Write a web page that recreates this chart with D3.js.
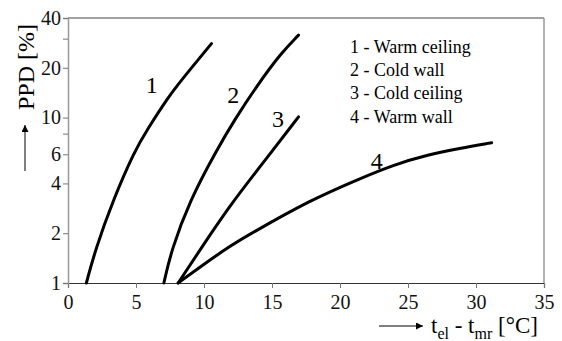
<!DOCTYPE html>
<html>
<head>
<meta charset="utf-8">
<script src="https://cdn.jsdelivr.net/npm/d3@7"></script>
<style>
  body { margin: 0; background: #fff; }
  svg { display: block; }
  svg text { font-family: "Liberation Serif", "DejaVu Serif", serif; }
</style>
</head>
<body>
<svg id="chart" width="562" height="341"></svg>
<script>
// data (x: t_el - t_mr in °C, y: PPD in %)
var warmCeilingX = [1.35, 2.0, 3.3, 4.9, 5.8, 7.4, 8.35, 10.55];
var warmCeilingY = [1, 1.58, 3.15, 6.3, 8.4, 13.4, 16.9, 28];
var coldWallX = [7.05, 7.6, 8.95, 10.9, 12.25, 13.85, 15.65, 16.95];
var coldWallY = [1, 1.58, 3.15, 6.3, 9.7, 15.4, 24.5, 31.5];
var coldCeilingX = [8.1, 9.7, 11.9, 14.7, 16.95];
var coldCeilingY = [1, 1.58, 2.95, 5.8, 10.1];
var warmWallX = [8.1, 9.7, 11.9, 13.4, 17.8, 21.5, 23.9, 26.4, 28.8, 31.15];
var warmWallY = [1, 1.25, 1.67, 1.98, 3.17, 4.29, 5.17, 5.94, 6.52, 7.05];

var curveNames = ["1", "2", "3", "4"];
var legendLabels = ["1 - Warm ceiling", "2 - Cold wall", "3 - Cold ceiling", "4 - Warm wall"];
var xTicks = [0, 5, 10, 15, 20, 25, 30, 35];
var yTicks = [1, 2, 4, 6, 8, 10, 20, 30, 40];
var yTickLabels = [1, 2, 4, 6, 10, 20, 40];

var svg = d3.select("#chart");
var margin = { top: 18, right: 18, bottom: 58, left: 68 };
var width = 562, height = 341;
var innerWidth = width - margin.left - margin.right;
var innerHeight = height - margin.top - margin.bottom;

var g = svg.append("g").attr("transform", `translate(${margin.left},${margin.top})`);

var xScale = d3.scaleLinear().domain([0, 35]).range([0, innerWidth]);
var yScale = d3.scaleLog().domain([1, 40]).range([innerHeight, 0]);

// frame: top and right
g.append("line").attr("x1", 0).attr("x2", innerWidth).attr("y1", 0).attr("y2", 0)
  .attr("stroke", "#444").attr("stroke-width", 1.2);
g.append("line").attr("x1", innerWidth).attr("x2", innerWidth).attr("y1", 0).attr("y2", innerHeight)
  .attr("stroke", "#999").attr("stroke-width", 1.5);

// x axis
var xAxis = g.append("g")
  .attr("transform", `translate(0,${innerHeight})`)
  .call(d3.axisBottom(xScale).tickValues(xTicks).tickSize(5).tickPadding(7));
xAxis.attr("font-family", null);
xAxis.select(".domain").attr("stroke", "#333").attr("stroke-width", 1.2);
xAxis.selectAll(".tick line").attr("stroke", "#777");
xAxis.selectAll("text").style("font-size", "20px").attr("fill", "#111");

// y axis
var yAxis = g.append("g")
  .call(d3.axisLeft(yScale).tickValues(yTicks).tickSize(5).tickPadding(2)
    .tickFormat(d => yTickLabels.indexOf(d) >= 0 ? d : ""));
yAxis.attr("font-family", null);
yAxis.select(".domain").attr("stroke", "#999").attr("stroke-width", 1.5);
yAxis.selectAll(".tick line").attr("stroke", "#777");
yAxis.selectAll("text").style("font-size", "20px").attr("fill", "#111");

// curves
var series = [
  d3.zip(warmCeilingX, warmCeilingY),
  d3.zip(coldWallX, coldWallY),
  d3.zip(coldCeilingX, coldCeilingY),
  d3.zip(warmWallX, warmWallY)
];

var line = d3.line()
  .x(d => xScale(d[0]))
  .y(d => yScale(d[1]))
  .curve(d3.curveBasis);

g.selectAll("path.curve")
  .data(series)
  .enter()
  .append("path")
  .attr("class", "curve")
  .attr("d", line)
  .attr("fill", "none")
  .attr("stroke", "#000")
  .attr("stroke-width", 3)
  .attr("stroke-linecap", "round");

// curve numbers
var labelPos = [[6.15, 14.0], [12.15, 12.2], [15.45, 8.8], [22.7, 4.9]];
g.selectAll("text.curve-label")
  .data(curveNames)
  .enter()
  .append("text")
  .attr("class", "curve-label")
  .attr("x", (d, i) => xScale(labelPos[i][0]))
  .attr("y", (d, i) => yScale(labelPos[i][1]))
  .attr("text-anchor", "middle")
  .style("font-size", "24px")
  .text(d => d);

// legend
g.selectAll("text.legend")
  .data(legendLabels)
  .enter()
  .append("text")
  .attr("class", "legend")
  .attr("x", 282)
  .attr("y", (d, i) => 35 + i * 23.2)
  .style("font-size", "18px")
  .text(d => d);

// arrow marker
var defs = svg.append("defs");
defs.append("marker")
  .attr("id", "arrow")
  .attr("viewBox", "0 0 10 10")
  .attr("refX", 10).attr("refY", 5)
  .attr("markerWidth", 15).attr("markerHeight", 7)
  .attr("markerUnits", "userSpaceOnUse")
  .attr("orient", "auto")
  .append("path").attr("d", "M0,0 L10,5 L0,10 Z").attr("fill", "#000");

// y title
svg.append("line")
  .attr("x1", 25).attr("y1", 171).attr("x2", 25).attr("y2", 125)
  .attr("stroke", "#000").attr("stroke-width", 1)
  .attr("marker-end", "url(#arrow)");
svg.append("text")
  .attr("transform", "translate(34,67) rotate(-90)")
  .attr("text-anchor", "middle")
  .style("font-size", "24px")
  .text("PPD [%]");

// x title
svg.append("line")
  .attr("x1", 379).attr("y1", 326).attr("x2", 423).attr("y2", 326)
  .attr("stroke", "#000").attr("stroke-width", 1)
  .attr("marker-end", "url(#arrow)");
var xt = svg.append("text")
  .attr("x", 431).attr("y", 333)
  .style("font-size", "23px");
xt.append("tspan").text("t");
xt.append("tspan").attr("dy", 6).style("font-size", "16px").text("el");
xt.append("tspan").attr("dy", -6).text(" - t");
xt.append("tspan").attr("dy", 6).style("font-size", "16px").text("mr");
xt.append("tspan").attr("dy", -6).text(" [°C]");
</script>
</body>
</html>
